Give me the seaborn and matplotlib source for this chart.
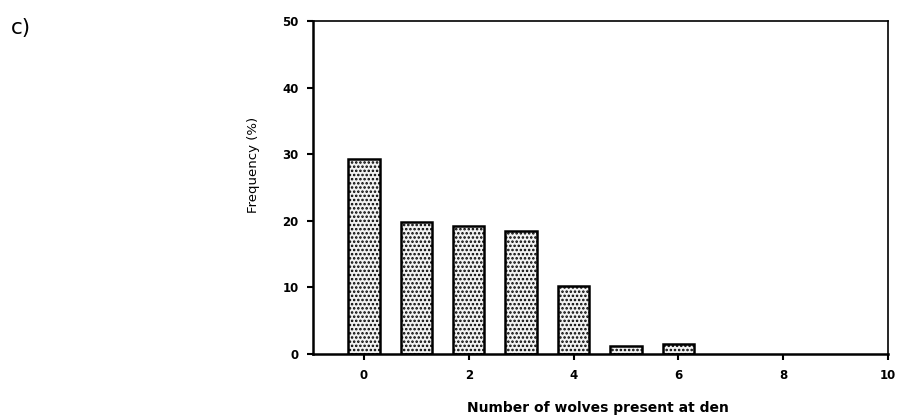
import matplotlib
matplotlib.use("Agg")
import matplotlib.pyplot as plt
import seaborn as sns
import pandas as pd

# Frequency of the number of wolves present at den
wolves_present = [0, 1, 2, 3, 4, 5, 6]
frequency_pct = [29.3, 19.8, 19.2, 18.4, 10.2, 1.2, 1.5]
x_ticks = [0, 2, 4, 6, 8, 10]
y_ticks = [0, 10, 20, 30, 40, 50]

df = pd.DataFrame({"wolves": wolves_present, "freq": frequency_pct})

sns.set_style("white")
plt.rcParams["font.family"] = ["DejaVu Sans"]
plt.rcParams["hatch.linewidth"] = 1.2
for key in ["text.color", "axes.labelcolor", "xtick.color", "ytick.color"]:
    plt.rcParams[key] = "black"

fig = plt.figure(figsize=(8.98, 4.19), dpi=100)
ax = fig.add_axes([0.3486, 0.155, 0.6403, 0.7949])

sns.barplot(data=df, x="wolves", y="freq", native_scale=True, width=0.6,
            color="white", edgecolor="black", linewidth=1.8,
            saturation=1, ax=ax)
for p in ax.patches:
    p.set_hatch("....")
    p.set_facecolor("#f2f2f2")

ax.set_xlim(-0.97, 10)
ax.set_ylim(0, 50)
ax.set_xticks(x_ticks)
ax.set_yticks(y_ticks)
tick_font = dict(fontsize=8.5, fontweight="bold", color="black")
ax.set_xticklabels([str(v) for v in x_ticks], **tick_font)
ax.set_yticklabels([str(v) for v in y_ticks], **tick_font)

for side in ["left", "bottom"]:
    ax.spines[side].set_linewidth(1.8)
    ax.spines[side].set_color("black")
for side in ["top", "right"]:
    ax.spines[side].set_linewidth(1.2)
    ax.spines[side].set_color("black")

ax.tick_params(axis="both", which="major", direction="out", length=4,
               width=1.5, color="black", pad=6.5, bottom=True, left=True)

ax.set_xlabel("Number of wolves present at den", fontsize=10,
              fontweight="bold", color="black")
ax.xaxis.set_label_coords(0.495, -0.141)
ax.set_ylabel("Frequency (%)", fontsize=9.5, color="black")
ax.yaxis.set_label_coords(-0.103, 0.568)
ax.yaxis.label.set_verticalalignment("center")

fig.text(0.012, 0.918, "c)", fontsize=15.5, va="baseline", color="black")

fig.savefig("out.png", dpi=100)
